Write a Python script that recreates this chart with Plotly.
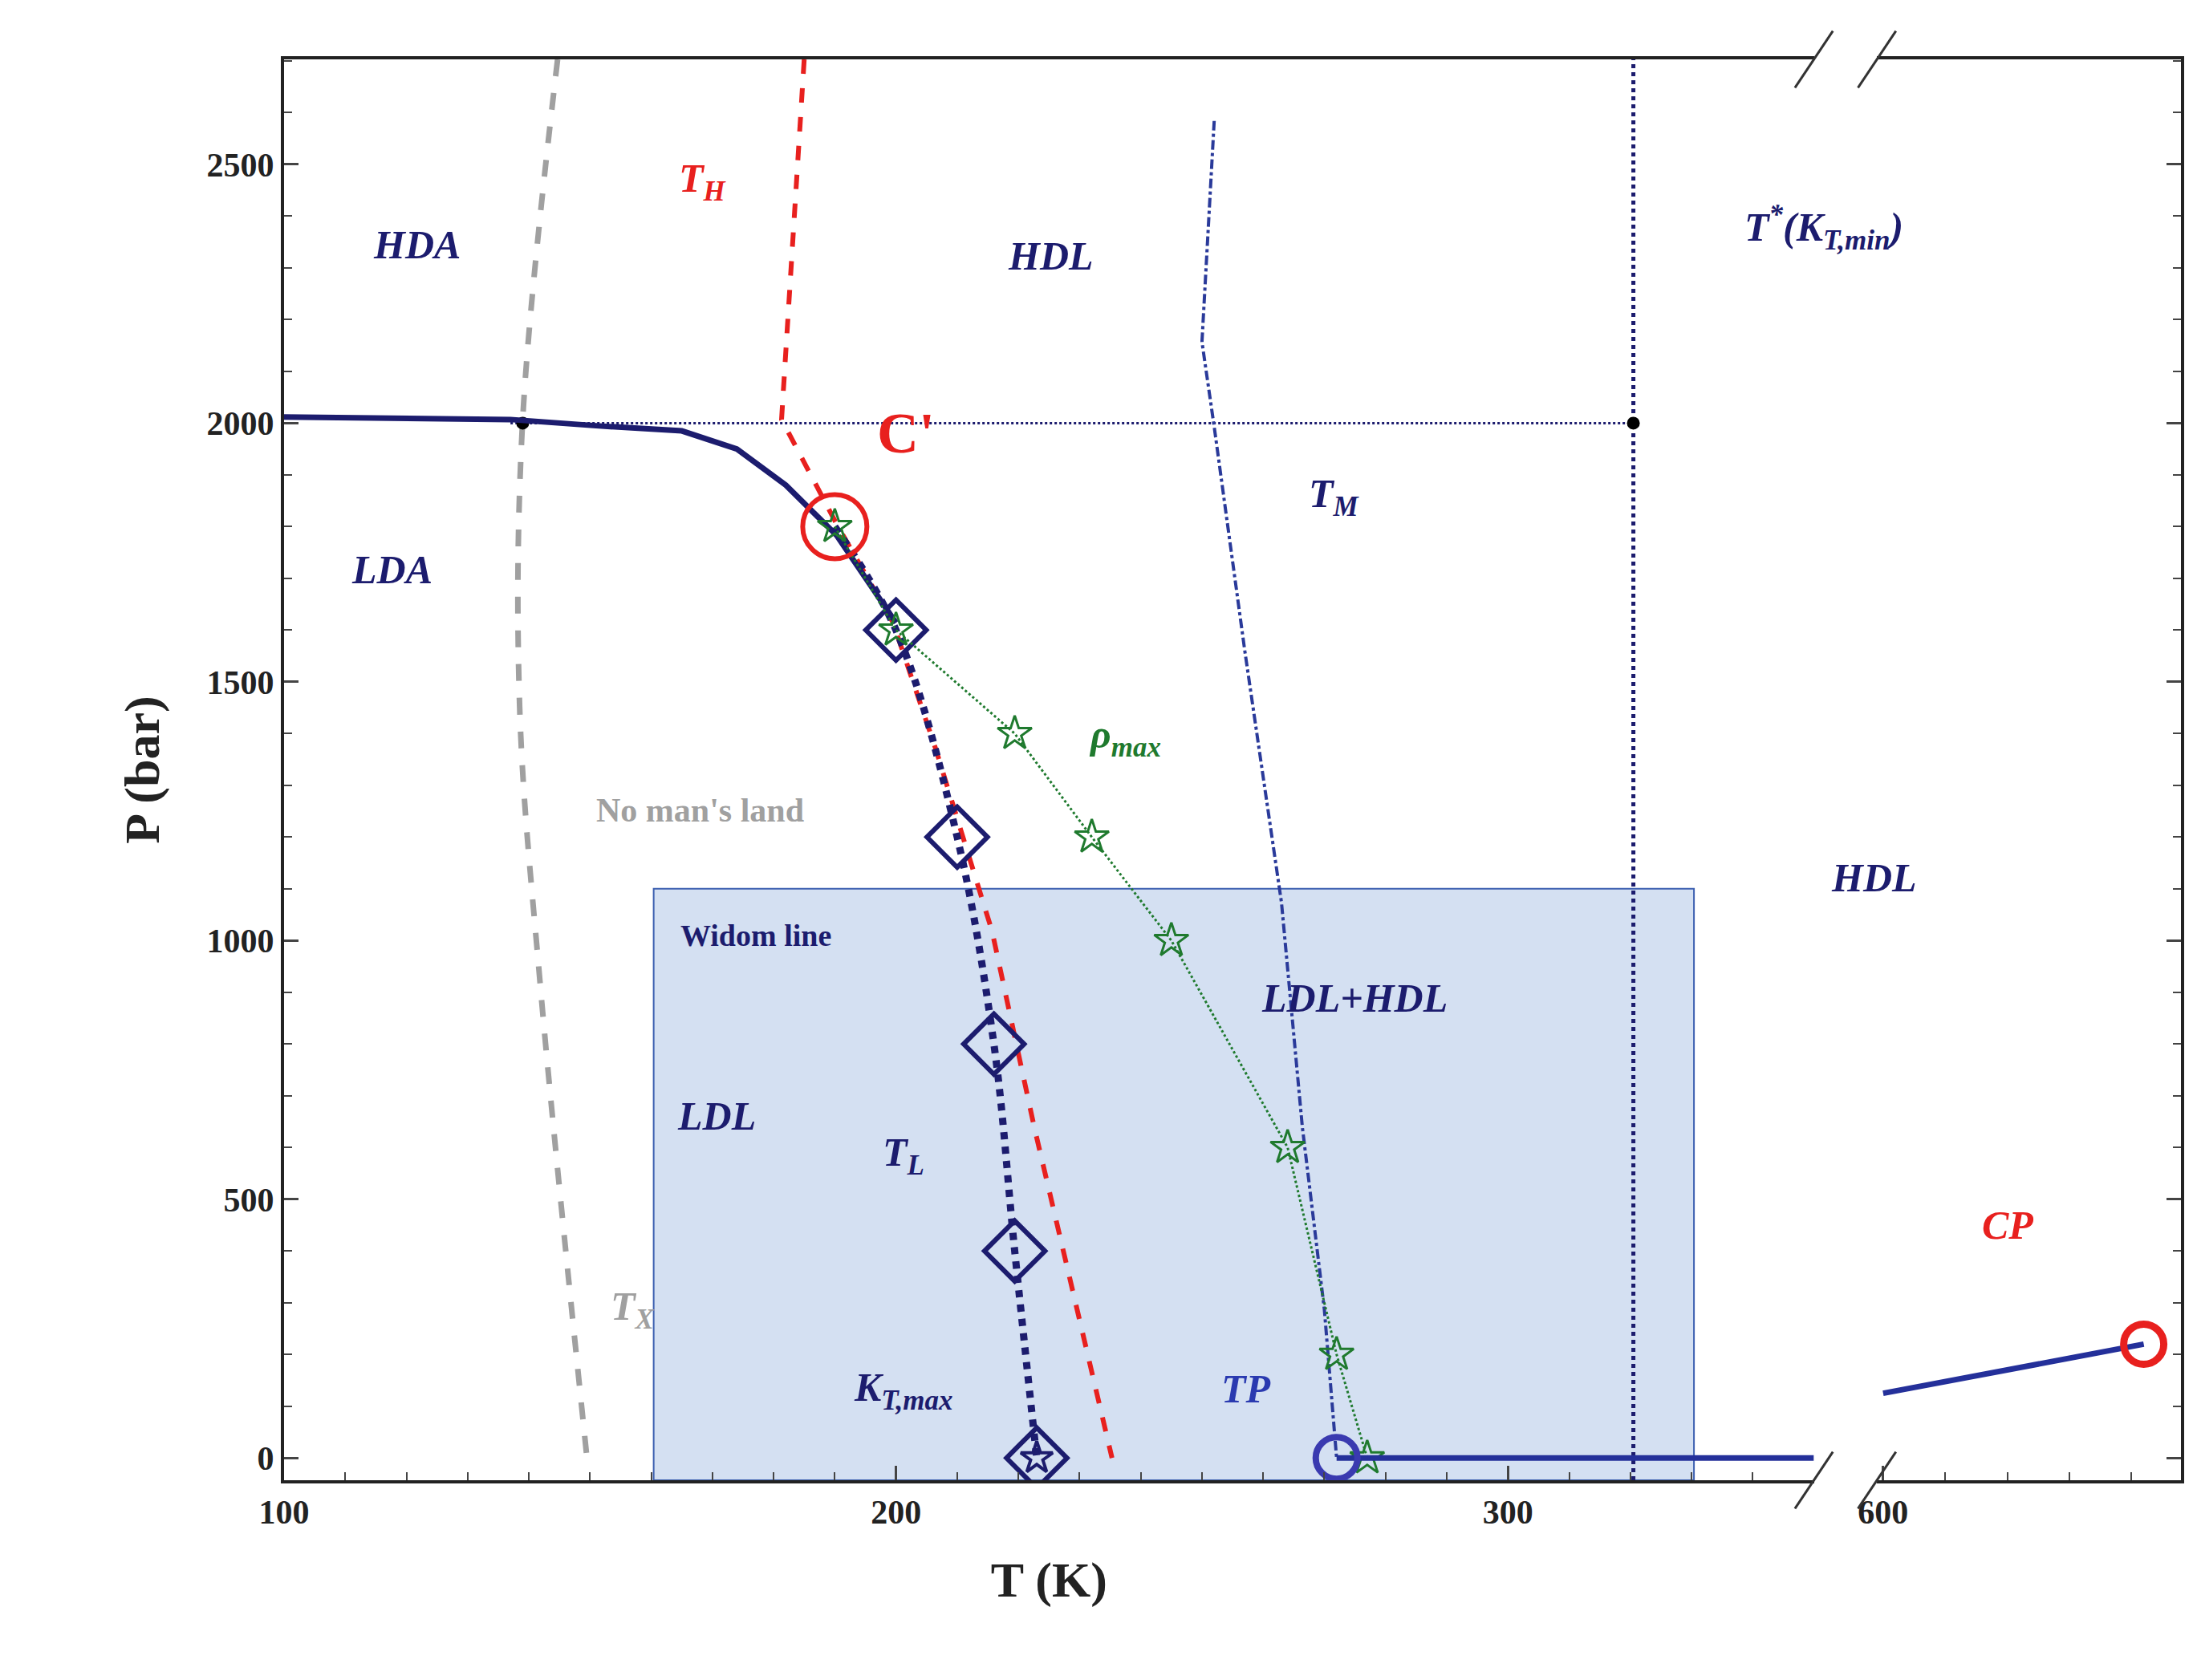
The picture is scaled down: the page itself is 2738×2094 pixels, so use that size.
import plotly.graph_objects as go

# --- data ---
tx_T = [144.7, 139.0, 138.5, 141.9, 149.5]
tx_P = [2703, 2007, 1452, 910, 0]

th_T = [185.0, 181.3, 190.3, 199.5, 206.5, 215.7, 222.6, 229.5, 235.3]
th_P = [2703, 2007, 1805, 1615, 1370, 1018, 639, 287, 0]

coex_T = [100, 137, 151, 165, 174, 182, 190.3, 197, 200]
coex_P = [2012, 2007, 1995, 1985, 1950, 1880, 1783, 1668, 1614]

tl_T = [190, 200, 210, 216, 219.4, 223]
tl_P = [1800, 1600, 1200, 800, 400, 0]

rho_T = [190, 200, 219.4, 232, 245, 264, 272, 277]
rho_P = [1800, 1600, 1400, 1200, 1000, 600, 200, 0]

tm_T = [252, 250, 252, 257, 263, 266.4, 270, 272]
tm_P = [2584, 2157, 1993, 1560, 1073, 640, 287, 0]

tstar_T = 320.5
vap_T = [272, 350]
vap_P = [0, 0]
vap2_T = [600, 642]
vap2_P = [125, 220]
box_T = [160.4, 330.4]
box_P = [-43, 1100]

navy = "#1c1c6e"
red = "#e8201e"
green = "#1f7a2e"
gray = "#a0a0a0"
FONT = "Liberation Serif"

X1 = [100, 350]
X2 = [599, 648]
Y = [-43, 2703]
d1 = (1290 - 198) / 1354
d2 = (1335 - 198) / 1354

fig = go.Figure()
fig.add_shape(type="rect", x0=box_T[0], x1=box_T[1], y0=box_P[0], y1=box_P[1],
              xref="x", yref="y", fillcolor="rgba(176,198,232,0.55)",
              line=dict(color="#3c5fb0", width=2), layer="below")

fig.add_scatter(x=tx_T, y=tx_P, mode="lines", line=dict(color=gray, width=7, dash="dash", shape="spline"))
fig.add_scatter(x=th_T, y=th_P, mode="lines", line=dict(color=red, width=6, dash="dash"))
fig.add_scatter(x=[137, tstar_T], y=[2000, 2000], mode="lines", line=dict(color=navy, width=3, dash="dot"))
fig.add_scatter(x=[tstar_T, tstar_T], y=Y, mode="lines", line=dict(color=navy, width=5, dash="dot"))
fig.add_scatter(x=[139, tstar_T], y=[2000, 2000], mode="markers", marker=dict(color="black", size=16))
fig.add_scatter(x=coex_T, y=coex_P, mode="lines", line=dict(color=navy, width=7))
fig.add_scatter(x=tl_T, y=tl_P, mode="lines", line=dict(color=navy, width=9, dash="dot", shape="spline"))
fig.add_scatter(x=tl_T[1:], y=tl_P[1:], mode="markers",
                marker=dict(symbol="diamond-open", size=58, color=navy, line=dict(width=6)))
fig.add_scatter(x=tm_T, y=tm_P, mode="lines", line=dict(color="#2a3a9a", width=4, dash="dashdot"))
fig.add_scatter(x=rho_T, y=rho_P, mode="lines+markers", line=dict(color=green, width=3, dash="dot"),
                marker=dict(symbol="star-open", size=32, color=green, line=dict(width=3)))
fig.add_scatter(x=[223], y=[0], mode="markers",
                marker=dict(symbol="star-open", size=30, color=navy, line=dict(width=4)))
fig.add_scatter(x=vap_T, y=vap_P, mode="lines", line=dict(color="#24309a", width=7))
fig.add_scatter(x=[272], y=[0], mode="markers",
                marker=dict(symbol="circle-open", size=52, color="#3a3ab0", line=dict(width=8)))
fig.add_scatter(x=[190], y=[1800], mode="markers",
                marker=dict(symbol="circle-open", size=80, color=red, line=dict(width=6)))
fig.add_scatter(x=vap2_T, y=vap2_P, mode="lines", line=dict(color="#24309a", width=7), xaxis="x2")
fig.add_scatter(x=[vap2_T[-1]], y=[vap2_P[-1]], mode="markers", xaxis="x2",
                marker=dict(symbol="circle-open", size=50, color=red, line=dict(width=9)))


def lab(text, xd, yd, color=navy, size=50, italic=True):
    t = f"<b><i>{text}</i></b>" if italic else f"<b>{text}</b>"
    fig.add_annotation(text=t, x=(xd - 198) / 1354, y=(1052 - yd) / 1014, xref="paper", yref="paper",
                       xanchor="center", yanchor="middle",
                       showarrow=False, font=dict(family=FONT, size=size, color=color))


lab("T<sub>H</sub>", 497, 125, red)
lab("HDA", 293, 170)
lab("HDL", 745, 178)
lab("T<sup>*</sup>(K<sub>T,min</sub>)", 1297, 158)
lab("C'", 642, 305, red, 72, italic=False)
lab("T<sub>M</sub>", 948, 350)
lab("LDA", 275, 402)
lab("ρ<sub>max</sub>", 798, 522, green)
lab("No man's land", 495, 574, gray, 42, italic=False)
lab("HDL", 1333, 622)
lab("Widom line", 535, 663, navy, 38, italic=False)
lab("LDL+HDL", 962, 708)
lab("LDL", 507, 792)
lab("T<sub>L</sub>", 640, 820)
lab("CP", 1428, 870, red)
lab("T<sub>X</sub>", 447, 930, gray)
lab("K<sub>T,max</sub>", 640, 988)
lab("TP", 885, 987, "#2a3ab0")

# axis break marks
for xd in (1290, 1335):
    for yp in (0, 1):
        fig.add_shape(type="line", xref="paper", yref="paper",
                      x0=(xd - 198) / 1354 - 0.01, x1=(xd - 198) / 1354 + 0.01,
                      y0=yp - 0.02, y1=yp + 0.02, line=dict(color="#333", width=3))

axfont = dict(family=FONT, size=42, color="#222")
common = dict(showline=True, linecolor="#222", linewidth=4, ticks="inside", ticklen=18,
              tickwidth=3, showgrid=False, zeroline=False, tickfont=axfont, mirror=True)
fig.update_layout(
    width=2738, height=2094, showlegend=False,
    plot_bgcolor="white", paper_bgcolor="white",
    margin=dict(l=346, r=28, t=66, b=257),
    xaxis=dict(domain=[0, d1], range=X1, tickvals=[100, 200, 300], ticktext=["<b>100</b>", "<b>200</b>", "<b>300</b>"],
               minor=dict(dtick=10, ticks="inside", ticklen=10, tickwidth=2),
               title=dict(text="<b>T (K)</b>", font=dict(family=FONT, size=62, color="#222"), standoff=40),
               **common),
    xaxis2=dict(domain=[d2, 1], range=X2, anchor="y", tickvals=[600], ticktext=["<b>600</b>"],
                minor=dict(dtick=10, ticks="inside", ticklen=10, tickwidth=2), **common),
    yaxis=dict(range=Y, tickvals=[0, 500, 1000, 1500, 2000, 2500],
               ticktext=["<b>%d</b>" % v for v in [0, 500, 1000, 1500, 2000, 2500]],
               minor=dict(dtick=100, ticks="inside", ticklen=10, tickwidth=2),
               title=dict(text="<b>P (bar)</b>", font=dict(family=FONT, size=62, color="#222"), standoff=40),
               **{**common, "mirror": False}),
    yaxis3=dict(range=Y, overlaying="y", anchor="x2", side="right", showticklabels=False,
                tickvals=[0, 500, 1000, 1500, 2000, 2500],
                minor=dict(dtick=100, ticks="inside", ticklen=10, tickwidth=2),
                **{**common, "mirror": False}),
)
fig.add_scatter(x=[None], y=[None], yaxis="y3", xaxis="x2")

fig.write_html("out.html")
